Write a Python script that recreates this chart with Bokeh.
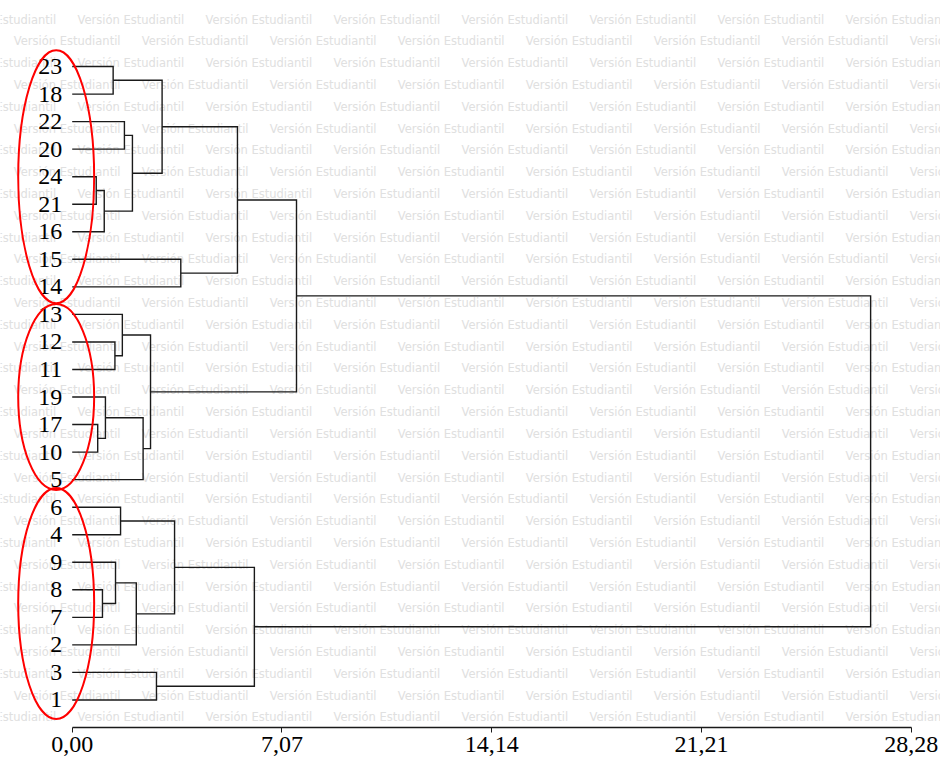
from bokeh.plotting import figure
from bokeh.models import Range1d, FixedTicker, LabelSet, ColumnDataSource
from bokeh.core.properties import value
from bokeh.embed import file_html
from bokeh.resources import INLINE

# ---------------- data ----------------
leaf_labels = ["23", "18", "22", "20", "24", "21", "16", "15", "14",
               "13", "12", "11", "19", "17", "10", "5",
               "6", "4", "9", "8", "7", "2", "3", "1"]

# agglomeration steps: children (leaf label or "cK" = K-th merge) and distance
merge_a = ["24", "17", "8", "c0", "19", "23", "12", "9", "6", "13", "22", "c10",
           "c7", "c4", "c9", "3", "c5", "c8", "15", "c16", "c17", "c19", "c21"]
merge_b = ["21", "10", "7", "16", "c1", "18", "11", "c2", "4", "c6", "20", "c3",
           "2", "5", "c13", "1", "c11", "c12", "14", "c18", "c15", "c14", "c20"]
merge_h = [0.81, 0.86, 1.02, 1.08, 1.12, 1.38, 1.44, 1.46, 1.63, 1.69, 1.76, 2.03,
           2.16, 2.39, 2.64, 2.84, 3.03, 3.45, 3.66, 5.57, 6.14, 7.56, 26.91]

group_first = ["23", "13", "6"]
group_last = ["14", "5", "1"]

x_ticks = [0.0, 7.07, 14.14, 21.21, 28.28]
x_tick_labels = ["0,00", "7,07", "14,14", "21,21", "28,28"]

watermark_text = "Versión Estudiantil"

# ---------------- styles / layout constants ----------------
FIG_W, FIG_H = 940, 764
BORDER_B = 37
FRAME_H = FIG_H - BORDER_B
PX_PER_X = 29.67          # screen px per distance unit
PX_PER_Y = 27.54          # screen px per leaf step
ZERO_PX = 71.7            # x=0 inside the frame (px from left)
x_start = -ZERO_PX / PX_PER_X
x_end = x_start + FIG_W / PX_PER_X
y_start = 0.0
y_end = FRAME_H / PX_PER_Y

ell_pad = [1.19, 0.75, 1.39]
ell_x = -0.54
ell_w = 2.56

# ---------------- dendrogram geometry ----------------
n = len(leaf_labels)
ypos = {lab: float(n - i) for i, lab in enumerate(leaf_labels)}
xpos = {lab: 0.0 for lab in leaf_labels}
xs, ys = [], []
for k, (a, b, h) in enumerate(zip(merge_a, merge_b, merge_h)):
    ya, yb = ypos[a], ypos[b]
    xs.append([xpos[a], h, h, xpos[b]])
    ys.append([ya, ya, yb, yb])
    ypos[f"c{k}"] = (ya + yb) / 2.0
    xpos[f"c{k}"] = h

p = figure(width=FIG_W, height=FIG_H, output_backend="svg", toolbar_location=None,
           x_range=Range1d(x_start, x_end), y_range=Range1d(y_start, y_end),
           y_axis_location=None, min_border=0, min_border_bottom=BORDER_B,
           background_fill_color="white", border_fill_color="white")
p.outline_line_color = None
p.grid.visible = False

# watermark (screen-pixel pattern converted to data coordinates)
wm_x, wm_y = [], []
row_step = 21.81
col_step = 128.0
for r in range(36):
    py = 19.0 + row_step * r
    px = -51.0 if r % 2 == 0 else 13.3
    while px < FIG_W + 10:
        wm_x.append((px - ZERO_PX) / PX_PER_X)
        wm_y.append((FRAME_H - py) / PX_PER_Y)
        px += col_step
wm_src = ColumnDataSource(dict(x=wm_x, y=wm_y, t=[watermark_text] * len(wm_x)))
wm = LabelSet(x="x", y="y", text="t", source=wm_src, level="underlay",
              text_font=value("DejaVu Sans"), text_font_size="11.5px",
              text_color="#e0e0e0", text_align="left", text_baseline="middle")
p.add_layout(wm)

# dendrogram links
p.multi_line(xs, ys, line_color="#1a1a1a", line_width=1.4, line_join="miter")

# leaf labels
leaf_src = ColumnDataSource(dict(x=[0.0] * n, y=[ypos[l] for l in leaf_labels], t=leaf_labels))
p.text(x="x", y="y", text="t", source=leaf_src, x_offset=-10,
       text_align="right", text_baseline="middle",
       text_font=value("Liberation Serif"), text_font_size="24px", text_color="black")

# group ellipses
ecy = [(ypos[a] + ypos[b]) / 2.0 for a, b in zip(group_first, group_last)]
ech = [abs(ypos[a] - ypos[b]) + pad for a, b, pad in zip(group_first, group_last, ell_pad)]
p.ellipse(x=[ell_x] * len(ecy), y=ecy, width=ell_w, height=ech,
          fill_color=None, line_color="#ff0000", line_width=2)

# x axis
ax = p.xaxis[0]
ax.bounds = (x_ticks[0], x_ticks[-1])
ax.ticker = FixedTicker(ticks=x_ticks)
ax.major_label_overrides = {t: l for t, l in zip(x_ticks, x_tick_labels)}
ax.minor_tick_line_color = None
ax.major_tick_in = 0
ax.major_tick_out = 5
ax.major_label_standoff = 4
ax.axis_line_color = "#1a1a1a"
ax.axis_line_width = 1.3
ax.major_tick_line_color = "#1a1a1a"
ax.major_label_text_font = "Liberation Serif"
ax.major_label_text_font_size = "24px"
ax.major_label_text_color = "black"

open("out.html", "w").write(file_html(p, INLINE))
